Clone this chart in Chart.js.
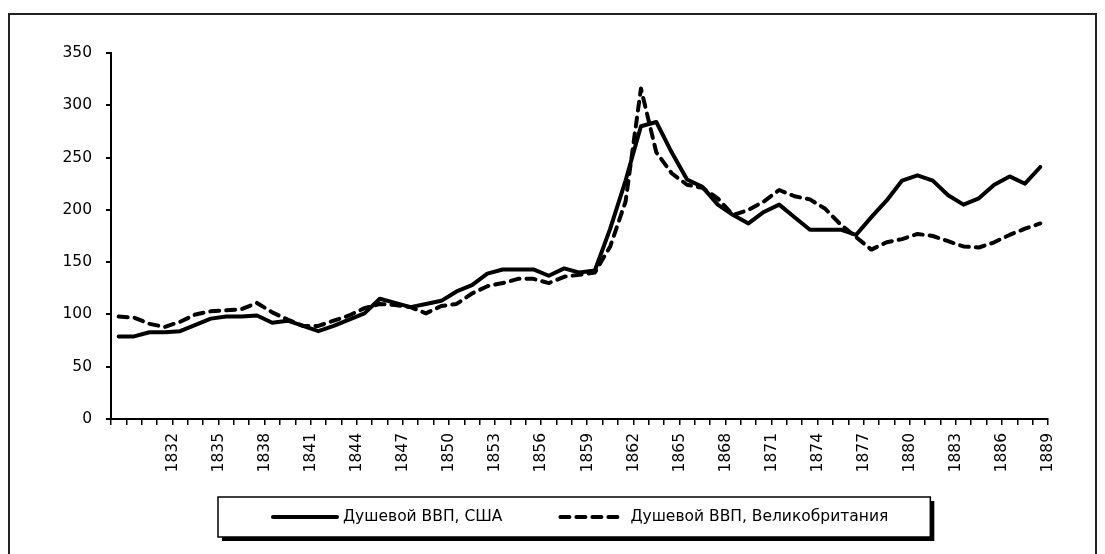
<!DOCTYPE html>
<html>
<head>
<meta charset="utf-8">
<script src="https://cdn.jsdelivr.net/npm/chart.js@4.4.1/dist/chart.umd.min.js"></script>
<style>
  html, body { margin: 0; padding: 0; background: #fff; }
  #wrap { width: 1105px; height: 554px; position: relative; }
</style>
</head>
<body>
<div id="wrap"><canvas id="gdpChart"></canvas></div>
<script>
// --- данные ---
const years = [1829, 1830, 1831, 1832, 1833, 1834, 1835, 1836, 1837, 1838,
  1839, 1840, 1841, 1842, 1843, 1844, 1845, 1846, 1847, 1848,
  1849, 1850, 1851, 1852, 1853, 1854, 1855, 1856, 1857, 1858,
  1859, 1860, 1861, 1862, 1863, 1864, 1865, 1866, 1867, 1868,
  1869, 1870, 1871, 1872, 1873, 1874, 1875, 1876, 1877, 1878,
  1879, 1880, 1881, 1882, 1883, 1884, 1885, 1886, 1887, 1888, 1889];

const usaGdp = [79, 79, 83, 83, 84, 90, 96, 98, 98, 99,
  92, 94, 89, 84, 89, 95, 101, 115, 111, 107,
  110, 113, 122, 128, 139, 143, 143, 143, 137, 144,
  140, 142, 182, 228, 280, 284, 255, 229, 222, 205,
  195, 187, 198, 205, 193, 181, 181, 181, 176, 193,
  209, 228, 233, 228, 214, 205, 211, 224, 232, 225, 241];

const ukGdp = [98, 97, 91, 88, 93, 100, 103, 104, 105, 111,
  102, 95, 89, 89, 94, 99, 106, 110, 109, 107,
  101, 108, 110, 120, 127, 130, 134, 134, 130, 136,
  138, 140, 165, 208, 316, 255, 235, 224, 221, 211,
  195, 200, 208, 219, 213, 210, 201, 186, 174, 162,
  169, 172, 177, 175, 170, 165, 164, 169, 176, 182, 187];

const seriesNames = ['Душевой ВВП, США', 'Душевой ВВП, Великобритания'];
const yMax = 350;
const yStep = 50;

const FONT = "'DejaVu Sans', 'Noto Sans', sans-serif";
const FONT_SIZE = 15.5;

// рамка рисунка
const framePlugin = {
  id: 'frames',
  beforeDraw(chart) {
    const c = chart.ctx;
    c.save();
    c.strokeStyle = '#222';
    c.lineWidth = 2;
    c.strokeRect(9, 14, 1087, 600);
    c.restore();
  }
};

// легенда в рамке с тенью (как в Excel)
const boxLegend = {
  id: 'boxLegend',
  afterDraw(chart) {
    const c = chart.ctx;
    const sets = chart.data.datasets;
    const cy = 517;
    const sample = 68;
    c.save();
    c.font = FONT_SIZE + 'px ' + FONT;
    c.textBaseline = 'middle';
    c.textAlign = 'left';

    let x = 271;
    const items = sets.map(ds => {
      const it = { ds, x0: x, tx: x + sample + 4 };
      it.tw = c.measureText(ds.label).width;
      x = it.tx + it.tw + 56;
      return it;
    });
    const last = items[items.length - 1];
    const bx0 = 218, bx1 = last.tx + last.tw + 42;
    const by0 = cy - 20, by1 = cy + 20;

    c.fillStyle = '#000';
    c.fillRect(bx0 + 4, by0 + 4, bx1 - bx0, by1 - by0);
    c.fillStyle = '#fff';
    c.fillRect(bx0, by0, bx1 - bx0, by1 - by0);
    c.lineWidth = 1.5;
    c.strokeStyle = '#000';
    c.strokeRect(bx0, by0, bx1 - bx0, by1 - by0);

    items.forEach(it => {
      c.beginPath();
      c.lineWidth = it.ds.borderWidth;
      c.strokeStyle = it.ds.borderColor;
      c.lineCap = 'round';
      c.setLineDash(it.ds.borderDash || []);
      c.moveTo(it.x0 + 2, cy);
      c.lineTo(it.x0 + sample - 2, cy);
      c.stroke();
      c.setLineDash([]);
      c.fillStyle = '#000';
      c.fillText(it.ds.label, it.tx, cy);
    });
    c.restore();
  }
};

const ctx = document.getElementById('gdpChart').getContext('2d');
Chart.defaults.color = '#000';
Chart.defaults.font.family = FONT;

const myChart = new Chart(ctx, {
  type: 'line',
  data: {
    labels: years,
    datasets: [
      {
        label: seriesNames[0],
        data: usaGdp,
        borderColor: '#000',
        backgroundColor: '#000',
        borderWidth: 4,
        pointRadius: 0,
        tension: 0,
        borderCapStyle: 'round',
        borderJoinStyle: 'round'
      },
      {
        label: seriesNames[1],
        data: ukGdp,
        borderColor: '#000',
        backgroundColor: '#000',
        borderWidth: 4,
        borderDash: [9, 7],
        pointRadius: 0,
        tension: 0,
        borderCapStyle: 'round',
        borderJoinStyle: 'round'
      }
    ]
  },
  options: {
    responsive: true,
    maintainAspectRatio: false,
    animation: false,
    layout: { padding: { top: 53, right: 57, bottom: 65, left: 0 } },
    plugins: {
      tooltip: { enabled: false },
      legend: { display: false }
    },
    scales: {
      x: {
        type: 'category',
        offset: true,
        afterFit(scale) { scale.height = 70; },
        grid: {
          offset: true,
          drawOnChartArea: false,
          drawTicks: true,
          tickLength: 6,
          tickColor: '#000',
          lineWidth: 1.5
        },
        border: { display: true, color: '#000', width: 2 },
        ticks: {
          autoSkip: false,
          minRotation: 90,
          maxRotation: 90,
          labelOffset: 8,
          padding: 8,
          color: '#000',
          font: { size: FONT_SIZE, family: FONT },
          callback(value, index) {
            return (index > 0 && index % 3 === 0) ? String(years[index]) : '';
          }
        }
      },
      y: {
        min: 0,
        max: yMax,
        afterFit(scale) { scale.width = 111; },
        grid: {
          drawOnChartArea: false,
          drawTicks: true,
          tickLength: 5,
          tickColor: '#000',
          lineWidth: 2
        },
        border: { display: true, color: '#000', width: 2 },
        ticks: {
          stepSize: yStep,
          padding: 14,
          color: '#000',
          font: { size: FONT_SIZE, family: FONT }
        }
      }
    }
  },
  plugins: [framePlugin, boxLegend]
});
</script>
</body>
</html>
